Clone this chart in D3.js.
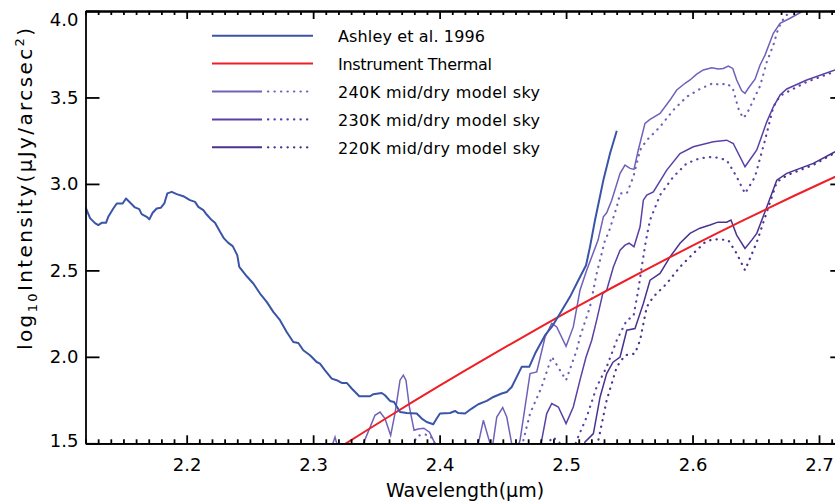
<!DOCTYPE html>
<html>
<head>
<meta charset="utf-8">
<script src="https://cdn.jsdelivr.net/npm/d3@7"></script>
<style>
  html, body { margin: 0; padding: 0; background: #fff; }
  #outer { width: 835px; height: 504px; overflow: hidden; }
</style>
</head>
<body>
<div id="outer"></div>
<script>
////////// Data (wavelength um, log10 intensity) //////////
const ashley = [[2.120,2.866],[2.1236,2.802],[2.1275,2.773],[2.1301,2.762],[2.1328,2.775],[2.1362,2.775],[2.1380,2.810],[2.1420,2.858],[2.1447,2.887],[2.1494,2.887],[2.1520,2.916],[2.1552,2.893],[2.1591,2.864],[2.1625,2.854],[2.1644,2.825],[2.1684,2.810],[2.1705,2.795],[2.1731,2.833],[2.1763,2.858],[2.1795,2.862],[2.1823,2.887],[2.1847,2.945],[2.1882,2.954],[2.1921,2.941],[2.1973,2.929],[2.2026,2.906],[2.2066,2.896],[2.2092,2.867],[2.2132,2.848],[2.2158,2.823],[2.2198,2.791],[2.2224,2.775],[2.2264,2.723],[2.2295,2.685],[2.2329,2.659],[2.2364,2.640],[2.2400,2.588],[2.2416,2.520],[2.2475,2.466],[2.2527,2.424],[2.2580,2.366],[2.2633,2.318],[2.2685,2.260],[2.2738,2.212],[2.2791,2.144],[2.2843,2.086],[2.2883,2.080],[2.2922,2.038],[2.2975,2.009],[2.3028,1.970],[2.3054,1.961],[2.3094,1.922],[2.3147,1.874],[2.3186,1.865],[2.3226,1.849],[2.3266,1.849],[2.3305,1.817],[2.3365,1.772],[2.3450,1.772],[2.3476,1.784],[2.3542,1.791],[2.3568,1.778],[2.3608,1.745],[2.3640,1.739],[2.3687,1.681],[2.3740,1.675],[2.3819,1.672],[2.3859,1.643],[2.3898,1.623],[2.3950,1.610],[2.3977,1.643],[2.4003,1.672],[2.4082,1.675],[2.4122,1.687],[2.4148,1.675],[2.4201,1.672],[2.4254,1.701],[2.4306,1.726],[2.4373,1.745],[2.4425,1.768],[2.4491,1.788],[2.4531,1.797],[2.4570,1.826],[2.4610,1.884],[2.4649,1.942],[2.4709,1.942],[2.4755,2.019],[2.4834,2.125],[2.4887,2.173],[2.4952,2.251],[2.5031,2.347],[2.5097,2.443],[2.5158,2.530],[2.5189,2.636],[2.5229,2.791],[2.5295,3.022],[2.5348,3.177],[2.5401,3.307]];

const thermalWave = [2.30,2.32,2.34,2.36,2.38,2.40,2.42,2.44,2.46,2.48,2.50,2.52,2.54,2.56,2.58,2.60,2.62,2.64,2.66,2.68,2.70,2.72];
const thermalLog  = [1.379,1.472,1.564,1.655,1.745,1.833,1.920,2.006,2.090,2.173,2.255,2.335,2.414,2.492,2.568,2.643,2.717,2.789,2.860,2.930,2.998,3.065];

const sky240Solid = [[2.300,1.35],[2.3133,1.45],[2.3173,1.536],[2.3205,1.45],[2.3307,1.35],[2.3397,1.498],[2.3489,1.662],[2.3529,1.681],[2.3568,1.643],[2.3613,1.546],[2.3647,1.672],[2.3687,1.865],[2.3713,1.894],[2.3734,1.865],[2.3761,1.710],[2.3798,1.575],[2.3830,1.583],[2.3875,1.587],[2.3920,1.564],[2.3964,1.498],[2.4003,1.40],[2.4161,1.34],[2.4306,1.498],[2.4346,1.633],[2.4399,1.498],[2.4414,1.46],[2.4452,1.652],[2.4499,1.707],[2.4531,1.652],[2.4570,1.498],[2.4596,1.43],[2.4636,1.517],[2.4715,1.903],[2.4768,1.913],[2.4834,2.115],[2.4887,2.193],[2.4926,2.173],[2.5000,2.061],[2.5057,2.173],[2.5110,2.385],[2.5163,2.501],[2.5253,2.675],[2.5295,2.810],[2.5321,2.833],[2.5361,2.906],[2.5427,3.061],[2.5466,3.109],[2.5506,3.090],[2.5537,3.084],[2.5571,3.196],[2.5624,3.350],[2.5664,3.373],[2.5743,3.408],[2.5822,3.485],[2.5875,3.543],[2.5941,3.582],[2.5980,3.601],[2.6033,3.635],[2.6085,3.659],[2.6152,3.672],[2.6204,3.664],[2.6243,3.668],[2.6283,3.682],[2.6318,3.668],[2.6349,3.601],[2.6389,3.539],[2.6415,3.524],[2.6441,3.553],[2.6494,3.606],[2.6534,3.688],[2.6573,3.745],[2.6639,3.871],[2.6692,3.929],[2.6771,3.958],[2.6890,4.006],[2.7127,4.09]];
const sky240Dotted = [[2.3700,1.35],[2.3790,1.488],[2.3819,1.540],[2.3869,1.552],[2.3924,1.546],[2.3972,1.488],[2.4043,1.34],[2.4320,1.34],[2.4596,1.40],[2.4662,1.517],[2.4715,1.672],[2.4807,1.826],[2.4887,2.001],[2.5000,1.865],[2.5084,2.038],[2.5110,2.115],[2.5189,2.289],[2.5242,2.482],[2.5308,2.675],[2.5334,2.714],[2.5401,2.867],[2.5427,2.945],[2.5480,2.945],[2.5532,3.041],[2.5585,3.196],[2.5638,3.253],[2.5743,3.330],[2.5848,3.427],[2.5954,3.504],[2.6058,3.549],[2.6164,3.583],[2.6217,3.572],[2.6270,3.582],[2.6318,3.553],[2.6362,3.437],[2.6399,3.381],[2.6429,3.404],[2.6481,3.485],[2.6534,3.566],[2.6587,3.705],[2.6639,3.803],[2.6678,3.900],[2.6731,3.971],[2.6810,4.006],[2.7127,4.06]];

const sky230Solid = [[2.4715,1.34],[2.4807,1.517],[2.4847,1.672],[2.4887,1.730],[2.4939,1.710],[2.5000,1.614],[2.5057,1.710],[2.5110,1.865],[2.5158,1.999],[2.5203,2.096],[2.5242,2.212],[2.5290,2.366],[2.5321,2.385],[2.5374,2.520],[2.5427,2.617],[2.5466,2.646],[2.5498,2.657],[2.5537,2.637],[2.5585,2.752],[2.5611,2.906],[2.5638,2.935],[2.5690,2.954],[2.5796,3.080],[2.5901,3.176],[2.6006,3.215],[2.6164,3.244],[2.6270,3.253],[2.6322,3.234],[2.6415,3.099],[2.6508,3.196],[2.6587,3.359],[2.6639,3.446],[2.6692,3.514],[2.6745,3.549],[2.6903,3.601],[2.7127,3.659]];
const sky230Dotted = [[2.4795,1.34],[2.4857,1.49],[2.4887,1.535],[2.4936,1.517],[2.4976,1.47],[2.5030,1.40],[2.5084,1.517],[2.5163,1.652],[2.5242,1.826],[2.5321,1.942],[2.5401,2.096],[2.5480,2.212],[2.5533,2.235],[2.5571,2.385],[2.5598,2.520],[2.5632,2.675],[2.5664,2.791],[2.5743,2.935],[2.5848,3.041],[2.5954,3.119],[2.6058,3.148],[2.6164,3.157],[2.6270,3.138],[2.6349,3.041],[2.6415,2.945],[2.6494,3.041],[2.6573,3.253],[2.6639,3.446],[2.6692,3.510],[2.6903,3.590],[2.7127,3.650]];

const sky220Solid = [[2.5071,1.34],[2.5150,1.508],[2.5216,1.556],[2.5269,1.768],[2.5321,1.903],[2.5371,1.969],[2.5427,1.999],[2.5480,2.154],[2.5545,2.164],[2.5611,2.308],[2.5664,2.443],[2.5743,2.482],[2.5822,2.578],[2.5901,2.657],[2.5980,2.714],[2.6058,2.744],[2.6138,2.762],[2.6201,2.779],[2.6270,2.779],[2.6304,2.791],[2.6349,2.704],[2.6415,2.627],[2.6468,2.675],[2.6508,2.714],[2.6587,2.867],[2.6666,3.022],[2.6745,3.061],[2.6955,3.119],[2.7127,3.186]];
const sky220Dotted = [[2.5190,1.34],[2.5255,1.517],[2.5321,1.749],[2.5401,1.942],[2.5466,2.009],[2.5545,2.019],[2.5585,2.096],[2.5638,2.289],[2.5690,2.347],[2.5796,2.424],[2.5901,2.520],[2.6006,2.598],[2.6099,2.663],[2.6164,2.681],[2.6283,2.675],[2.6349,2.598],[2.6415,2.501],[2.6508,2.663],[2.6587,2.837],[2.6666,3.010],[2.6745,3.050],[2.6955,3.110],[2.7127,3.180]];

const legendLabels = ['Ashley et al. 1996', 'Instrument Thermal', '240K mid/dry model sky', '230K mid/dry model sky', '220K mid/dry model sky'];
const xMajorTicks = [2.2, 2.3, 2.4, 2.5, 2.6, 2.7];
const yMajorTicks = [1.5, 2.0, 2.5, 3.0, 3.5, 4.0];

////////// Hard coded defs //////////
const W = 835, H = 504;
const font = "'DejaVu Sans', 'Liberation Sans', sans-serif";
const colAshley = '#3a55a7';
const colThermal = '#ee1f26';
const col240 = '#7160b9';
const col230 = '#5a40a5';
const col220 = '#4a3390';
const dotDash = '0.3 6.2';

const x = d3.scaleLinear().domain([2.12, 2.72]).range([85.5, 844.3]);
const y = d3.scaleLinear().domain([1.5, 4.0]).range([443.3, 11]);

const svg = d3.select('#outer').append('svg')
  .attr('width', W).attr('height', H)
  .style('font-family', font);

svg.append('defs').append('clipPath').attr('id', 'plotClip')
  .append('rect')
  .attr('x', x.range()[0]).attr('y', y.range()[1])
  .attr('width', x.range()[1] - x.range()[0])
  .attr('height', y.range()[0] - y.range()[1]);

const plot = svg.append('g').attr('clip-path', 'url(#plotClip)');

const line = d3.line().x(d => x(d[0])).y(d => y(d[1]));

// model sky curves (drawn first, underneath)
const skySeries = [
  { data: sky240Dotted, color: col240, dotted: true },
  { data: sky230Dotted, color: col230, dotted: true },
  { data: sky220Dotted, color: col220, dotted: true },
  { data: sky240Solid, color: col240, dotted: false },
  { data: sky230Solid, color: col230, dotted: false },
  { data: sky220Solid, color: col220, dotted: false }
];
skySeries.forEach(s => {
  plot.append('path')
    .attr('d', line(s.data))
    .attr('fill', 'none')
    .attr('stroke', s.color)
    .attr('stroke-width', s.dotted ? 2.2 : 1.5)
    .attr('stroke-linecap', s.dotted ? 'round' : 'butt')
    .attr('stroke-dasharray', s.dotted ? dotDash : null);
});

// instrument thermal
plot.append('path')
  .attr('d', line(thermalWave.map((w, i) => [w, thermalLog[i]])))
  .attr('fill', 'none')
  .attr('stroke', colThermal)
  .attr('stroke-width', 2);

// Ashley et al.
plot.append('path')
  .attr('d', line(ashley))
  .attr('fill', 'none')
  .attr('stroke', colAshley)
  .attr('stroke-width', 2)
  .attr('stroke-linejoin', 'round');

////////// Axes //////////
const xMinor = d3.range(212, 273).map(v => v / 100).filter(v => !xMajorTicks.some(m => Math.abs(m - v) < 1e-6));
const axisStyle = g => {
  g.selectAll('path, line').attr('stroke', '#000').attr('stroke-width', 1.8);
  g.selectAll('text').attr('fill', '#000').style('font-family', font).style('font-size', '18px');
};

const xb = y.range()[0], xt = y.range()[1];
svg.append('g').attr('transform', `translate(0,${xb})`)
  .call(d3.axisBottom(x).tickValues(xMinor).tickSize(-4).tickSizeOuter(0).tickFormat(''))
  .call(axisStyle);
svg.append('g').attr('transform', `translate(0,${xb})`)
  .call(d3.axisBottom(x).tickValues(xMajorTicks).tickSize(-8).tickSizeOuter(0).tickPadding(15).tickFormat(d3.format('.1f')))
  .call(axisStyle);
svg.append('g').attr('transform', `translate(0,${xt})`)
  .call(d3.axisTop(x).tickValues(xMinor).tickSize(-4).tickSizeOuter(0).tickFormat(''))
  .call(axisStyle);
svg.append('g').attr('transform', `translate(0,${xt})`)
  .call(d3.axisTop(x).tickValues(xMajorTicks).tickSize(-8).tickSizeOuter(0).tickFormat(''))
  .call(axisStyle);

const yl = svg.append('g').attr('transform', `translate(${x.range()[0]},0)`)
  .call(d3.axisLeft(y).tickValues(yMajorTicks).tickSize(-14).tickSizeOuter(0).tickPadding(7).tickFormat(d3.format('.1f')))
  .call(axisStyle);
// end labels sit a little inside, as in the original
yl.selectAll('.tick text').attr('dy', d => d === 4.0 ? '0.82em' : d === 1.5 ? '0.18em' : '0.32em');

svg.append('g').attr('transform', `translate(${x.range()[1]},0)`)
  .call(d3.axisRight(y).tickValues(yMajorTicks).tickSize(-14).tickSizeOuter(0).tickFormat(''))
  .call(axisStyle);

////////// Axis titles //////////
svg.append('text')
  .attr('x', 465).attr('y', 497)
  .attr('text-anchor', 'middle')
  .style('font-size', '19px')
  .text('Wavelength(μm)');

const yTitle = svg.append('text')
  .attr('transform', 'translate(32,189) rotate(-90)')
  .attr('text-anchor', 'middle')
  .attr('textLength', 322)
  .attr('lengthAdjust', 'spacing')
  .style('font-size', '20px');
yTitle.append('tspan').text('log');
yTitle.append('tspan').attr('dy', 5).style('font-size', '13px').text('10');
yTitle.append('tspan').attr('dy', -5).text('Intensity(μJy/arcsec');
yTitle.append('tspan').attr('dy', -8).style('font-size', '13px').text('2');
yTitle.append('tspan').attr('dy', 8).text(')');

////////// Legend //////////
const legendColors = [colAshley, colThermal, col240, col230, col220];
const legendWidths = [147, 154, 202, 202, 202];
const legend = svg.append('g');
legendLabels.forEach((label, i) => {
  const ly = 35.7 + i * 27.9;
  if (i < 2) {
    legend.append('line')
      .attr('x1', 212).attr('x2', 313).attr('y1', ly).attr('y2', ly)
      .attr('stroke', legendColors[i]).attr('stroke-width', 2);
  } else {
    legend.append('line')
      .attr('x1', 212).attr('x2', 262).attr('y1', ly).attr('y2', ly)
      .attr('stroke', legendColors[i]).attr('stroke-width', 2);
    legend.append('line')
      .attr('x1', 268).attr('x2', 313).attr('y1', ly).attr('y2', ly)
      .attr('stroke', legendColors[i]).attr('stroke-width', 2.2)
      .attr('stroke-linecap', 'round')
      .attr('stroke-dasharray', dotDash);
  }
  legend.append('text')
    .attr('x', 338).attr('y', ly + 6.5)
    .attr('textLength', legendWidths[i])
    .attr('lengthAdjust', 'spacing')
    .style('font-size', '16px')
    .attr('fill', '#000')
    .text(label);
});
</script>
</body>
</html>
